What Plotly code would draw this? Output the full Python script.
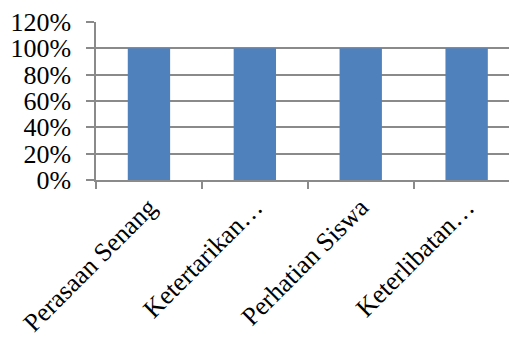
import plotly.graph_objects as go

categories = ["Perasaan Senang", "Ketertarikan…", "Perhatian Siswa", "Keterlibatan…"]
values = [1.0, 1.0, 1.0, 1.0]
y_ticks = [0, 0.2, 0.4, 0.6, 0.8, 1.0, 1.2]
y_tick_text = ["0%", "20%", "40%", "60%", "80%", "100%", "120%"]

grey = "#8a8a8a"
font = dict(family="Liberation Serif", size=26, color="black")

fig = go.Figure(
    go.Bar(
        x=categories,
        y=values,
        marker=dict(color="#4F81BD", line=dict(width=0)),
        width=0.4,
    )
)

fig.update_layout(
    width=509,
    height=338,
    margin=dict(l=96, r=0, t=22, b=158),
    paper_bgcolor="white",
    plot_bgcolor="white",
    showlegend=False,
    font=font,
)

fig.update_xaxes(
    type="category",
    range=[-0.5, 3.4],
    tickangle=-45,
    tickson="boundaries",
    ticks="outside",
    ticklen=7,
    tickcolor=grey,
    tickwidth=1.5,
    showline=True,
    linecolor=grey,
    linewidth=1.5,
    showgrid=False,
    tickfont=font,
)

fig.update_yaxes(
    range=[0, 1.2],
    tickvals=y_ticks,
    ticktext=y_tick_text,
    ticks="outside",
    ticklen=8,
    tickcolor=grey,
    tickwidth=1.5,
    showline=True,
    linecolor=grey,
    linewidth=1.5,
    showgrid=True,
    gridcolor=grey,
    gridwidth=1.5,
    zeroline=False,
    ticklabelstandoff=10,
    tickfont=font,
)

fig.write_html("out.html")
